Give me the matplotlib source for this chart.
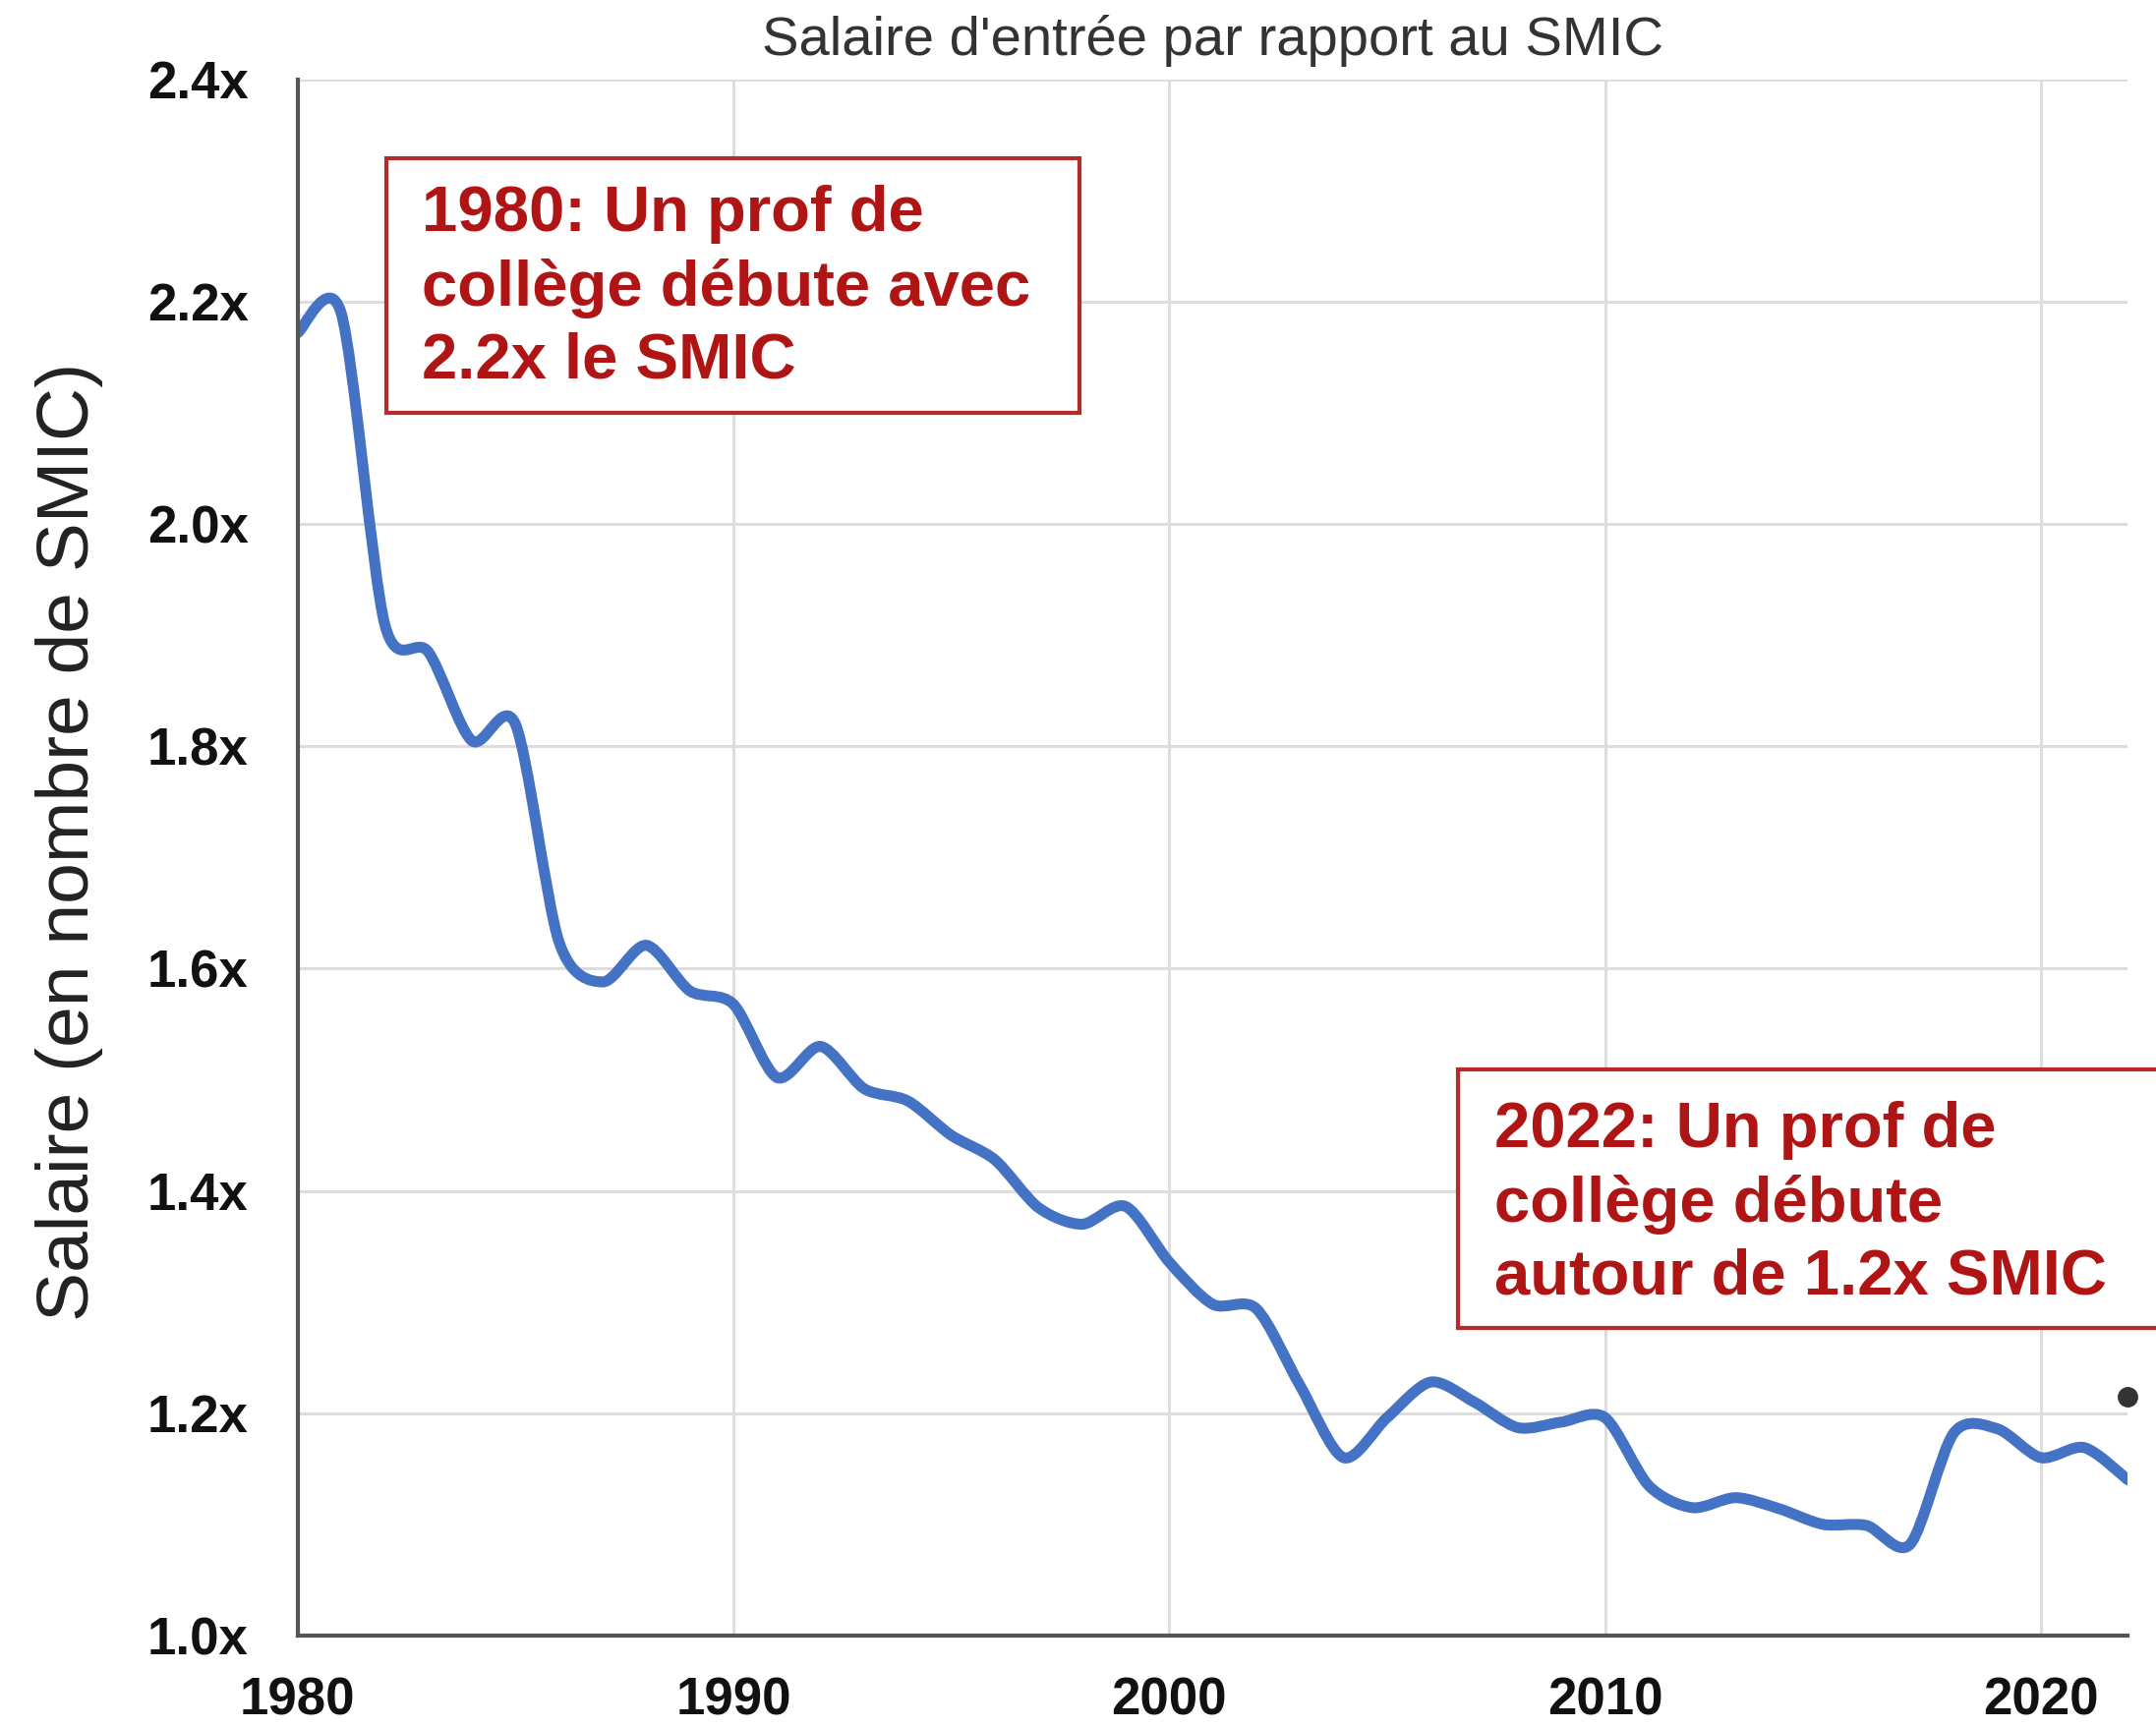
import numpy as np
import matplotlib.pyplot as plt
from matplotlib.path import Path
from matplotlib.patches import PathPatch, Rectangle

# Data (entry salary as multiple of SMIC)
years = list(range(1980, 2023))
ratio = [2.172, 2.190, 1.910, 1.885, 1.805, 1.820, 1.624, 1.588, 1.621, 1.580,
         1.568, 1.502, 1.530, 1.492, 1.481, 1.450, 1.428, 1.385, 1.370, 1.386,
         1.336, 1.298, 1.294, 1.225, 1.160, 1.196, 1.228, 1.210, 1.187, 1.192,
         1.196, 1.135, 1.115, 1.124, 1.114, 1.100, 1.099, 1.082, 1.182, 1.186,
         1.160, 1.169, 1.140]
dot_year = [2022]
dot_value = [1.215]

x_ticks = [1980, 1990, 2000, 2010, 2020]
y_ticks = [1.0, 1.2, 1.4, 1.6, 1.8, 2.0, 2.2, 2.4]

title = "Salaire d'entrée par rapport au SMIC"
ylabel = "Salaire (en nombre de SMIC)"
note_1980 = "1980: Un prof de\ncollège débute avec\n2.2x le SMIC"
note_2022 = "2022: Un prof de\ncollège débute\nautour de 1.2x SMIC"

plt.rcParams['font.family'] = ['Liberation Sans', 'DejaVu Sans']

BLUE = '#4472c4'
RED = '#b01515'
BOX_RED = '#b32b2b'


# smooth curve through the yearly points (Catmull-Rom as cubic Bezier)
def smooth_path(x, y, t=1/7):
    n = len(x)
    verts = [(x[0], y[0])]
    codes = [Path.MOVETO]
    for i in range(n - 1):
        xp, yp = x[max(i - 1, 0)], y[max(i - 1, 0)]
        xn, yn = x[min(i + 2, n - 1)], y[min(i + 2, n - 1)]
        c1 = (x[i] + (x[i + 1] - xp) * t, y[i] + (y[i + 1] - yp) * t)
        c2 = (x[i + 1] - (xn - x[i]) * t, y[i + 1] - (yn - y[i]) * t)
        verts += [c1, c2, (x[i + 1], y[i + 1])]
        codes += [Path.CURVE4] * 3
    return Path(verts, codes)


fig = plt.figure(figsize=(21.93, 17.57), dpi=100)
ax = fig.add_axes([0.138, 0.053, 0.849, 0.901])

ax.add_patch(PathPatch(smooth_path(years, ratio), facecolor='none',
                       edgecolor=BLUE, lw=8, capstyle='round',
                       joinstyle='round', zorder=3))
ax.plot(dot_year, dot_value, 'o', color='#333333', markersize=14,
        clip_on=False, zorder=4)

ax.set_xlim(1980, 2022)
ax.set_ylim(1.0, 2.4)
ax.set_xticks(x_ticks)
ax.set_yticks(y_ticks)
ax.set_yticklabels([f'{v:.1f}x' for v in y_ticks])
ax.tick_params(length=0, labelsize=38, colors='#111111')
ax.tick_params(axis='y', pad=36)
ax.tick_params(axis='x', pad=30)
for lab in ax.get_xticklabels() + ax.get_yticklabels():
    lab.set_fontweight('bold')

ax.grid(True, color='#dddddd', lw=2.2)
ax.set_axisbelow(True)
for side in ['top', 'right']:
    ax.spines[side].set_visible(False)
for side in ['left', 'bottom']:
    ax.spines[side].set_color('#555555')
    ax.spines[side].set_linewidth(3)
    ax.spines[side].set_zorder(5)

ax.set_title(title, fontsize=40.5, color='#333333', pad=18)
ax.set_ylabel(ylabel, fontsize=54, color='#222222')
ax.yaxis.set_label_coords(-0.106, 0.51)

# annotation boxes
ax.add_patch(Rectangle((0.0483, 0.786), 0.379, 0.1635, transform=ax.transAxes,
                       facecolor='white', edgecolor=BOX_RED, lw=3,
                       clip_on=False, zorder=6))
ax.text(0.0677, 0.866, note_1980, transform=ax.transAxes, fontsize=47,
        fontweight='bold', color=RED, va='center', ha='left',
        linespacing=1.3, zorder=7)

ax.add_patch(Rectangle((0.634, 0.1977), 0.42, 0.1662, transform=ax.transAxes,
                       facecolor='white', edgecolor=BOX_RED, lw=3,
                       clip_on=False, zorder=6))
ax.text(0.6536, 0.2773, note_2022, transform=ax.transAxes, fontsize=47,
        fontweight='bold', color=RED, va='center', ha='left',
        linespacing=1.3, zorder=7)

fig.savefig('out.png', dpi=100, facecolor='white')
